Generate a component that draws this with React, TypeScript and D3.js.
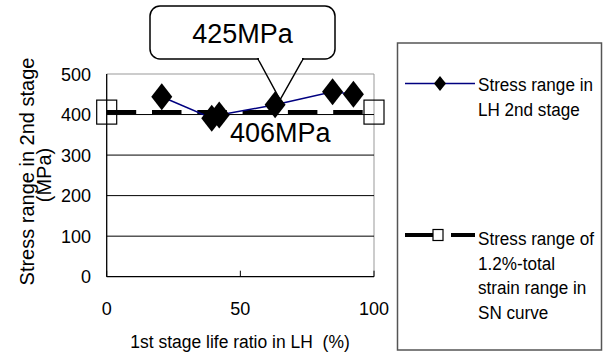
import { useEffect, useRef } from 'react';
import * as d3 from 'd3';

// LH 2nd stage measurements
const lifeRatio = [20.6, 39.3, 42.1, 63.0, 84.5, 92.3];
const stressRange = [444, 391, 399, 424, 456, 450];

// SN curve reference (1.2% total strain range)
const snLifeRatio = [0, 100];
const snStress = [406, 406];

const xTicks = [0, 50, 100];
const yTicks = [0, 100, 200, 300, 400, 500];
const gridValues = [100, 200, 300, 400];

const calloutLabel = '425MPa';
const snLabel = '406MPa';
const xTitle = '1st stage life ratio in LH  (%)';
const yTitle = ['Stress range in 2nd stage', '(MPa)'];
const legendLabels = [
  ['Stress range in', 'LH 2nd stage'],
  ['Stress range of', '1.2%-total', 'strain range in', 'SN curve'],
];

const FONT = "'Liberation Sans', Arial, sans-serif";

export default function App() {
  const svgRef = useRef<SVGSVGElement>(null);

  useEffect(() => {
    if (!svgRef.current) return;
    const svg = d3.select(svgRef.current);
    svg.selectAll('*').remove();

    const W = 612;
    const H = 354;
    svg.attr('width', W).attr('height', H);
    svg.append('rect').attr('width', W).attr('height', H).attr('fill', '#fff');

    const plot = { left: 106.7, right: 374, top: 74, bottom: 276.7 };

    const x = d3.scaleLinear().domain([0, 100]).range([plot.left, plot.right]);
    const y = d3.scaleLinear().domain([0, 500]).range([plot.bottom, plot.top]);

    // Plot frame (grey top/right)
    svg.append('line')
      .attr('x1', plot.left).attr('x2', plot.right)
      .attr('y1', y(500)).attr('y2', y(500))
      .attr('stroke', '#999').attr('stroke-width', 1);
    svg.append('line')
      .attr('x1', plot.right).attr('x2', plot.right)
      .attr('y1', y(500)).attr('y2', y(0))
      .attr('stroke', '#999').attr('stroke-width', 1);

    // Grid lines
    svg.selectAll('.grid')
      .data(gridValues)
      .enter()
      .append('line')
      .attr('x1', plot.left).attr('x2', plot.right)
      .attr('y1', (d) => y(d)).attr('y2', (d) => y(d))
      .attr('stroke', '#000').attr('stroke-width', 1);

    // Axes
    svg.append('line')
      .attr('x1', plot.left).attr('x2', plot.left)
      .attr('y1', y(500)).attr('y2', y(0))
      .attr('stroke', '#000').attr('stroke-width', 1.3);
    svg.append('line')
      .attr('x1', plot.left).attr('x2', plot.right)
      .attr('y1', y(0)).attr('y2', y(0))
      .attr('stroke', '#000').attr('stroke-width', 1.3);

    // x tick marks (inside)
    svg.selectAll('.xtick')
      .data(xTicks)
      .enter()
      .append('line')
      .attr('x1', (d) => x(d)).attr('x2', (d) => x(d))
      .attr('y1', y(0)).attr('y2', y(0) - 6)
      .attr('stroke', '#000').attr('stroke-width', 1);

    // Tick labels
    svg.selectAll('.ylab')
      .data(yTicks)
      .enter()
      .append('text')
      .attr('x', 91)
      .attr('y', (d) => y(d) + 6.5)
      .attr('text-anchor', 'end')
      .attr('font-family', FONT)
      .attr('font-size', 18)
      .attr('fill', '#000')
      .text((d) => d);

    svg.selectAll('.xlab')
      .data(xTicks)
      .enter()
      .append('text')
      .attr('x', (d) => x(d))
      .attr('y', 315)
      .attr('text-anchor', 'middle')
      .attr('font-family', FONT)
      .attr('font-size', 18)
      .attr('fill', '#000')
      .text((d) => d);

    // Axis titles
    svg.append('text')
      .attr('transform', 'translate(240,348) scale(0.92,1)')
      .attr('text-anchor', 'middle')
      .attr('font-family', FONT)
      .attr('font-size', 19)
      .attr('fill', '#000')
      .style('white-space', 'pre')
      .text(xTitle);

    svg.append('text')
      .attr('transform', 'translate(33.5,171.5) rotate(-90)')
      .attr('text-anchor', 'middle')
      .attr('font-family', FONT)
      .attr('font-size', 20)
      .attr('fill', '#000')
      .text(yTitle[0]);
    svg.append('text')
      .attr('transform', 'translate(51,175) rotate(-90)')
      .attr('text-anchor', 'middle')
      .attr('font-family', FONT)
      .attr('font-size', 20)
      .attr('fill', '#000')
      .text(yTitle[1]);

    // SN reference dashed line
    const snPts = snLifeRatio.map((d, i) => [d, snStress[i]] as [number, number]);
    svg.append('path')
      .datum(snPts)
      .attr('fill', 'none')
      .attr('stroke', '#000')
      .attr('stroke-width', 4)
      .attr('stroke-dasharray', '29.5,15.8')
      .attr('d', d3.line<[number, number]>().x((d) => x(d[0])).y((d) => y(d[1])));

    svg.selectAll('.snmark')
      .data(snPts)
      .enter()
      .append('rect')
      .attr('x', (d) => x(d[0]) - 10)
      .attr('y', (d) => y(d[1]) - 12)
      .attr('width', 20)
      .attr('height', 24)
      .attr('fill', 'none')
      .attr('stroke', '#000')
      .attr('stroke-width', 1.2);

    // LH 2nd stage line + diamonds
    const pts = lifeRatio.map((d, i) => [d, stressRange[i]] as [number, number]);
    svg.append('path')
      .datum(pts)
      .attr('fill', 'none')
      .attr('stroke', '#000080')
      .attr('stroke-width', 1.5)
      .attr('d', d3.line<[number, number]>().x((d) => x(d[0])).y((d) => y(d[1])));

    const diamond = (cx: number, cy: number, w: number, h: number) =>
      `M${cx},${cy - h / 2}L${cx + w / 2},${cy}L${cx},${cy + h / 2}L${cx - w / 2},${cy}Z`;

    svg.selectAll('.dia')
      .data(pts)
      .enter()
      .append('path')
      .attr('d', (d) => diamond(x(d[0]), y(d[1]), 21, 27))
      .attr('fill', '#000');

    // 406MPa label
    svg.append('text')
      .attr('x', 230)
      .attr('y', 141.5)
      .attr('font-family', FONT)
      .attr('font-size', 27)
      .attr('fill', '#000')
      .text(snLabel);

    // Callout for 425MPa
    const tipX = x(lifeRatio[3]) + 5;
    const tipY = y(stressRange[3]) - 5;
    const box = { x0: 150, x1: 335, y0: 6, y1: 59, r: 10 };
    const call = svg.append('g');
    call.append('rect')
      .attr('x', box.x0).attr('y', box.y0)
      .attr('width', box.x1 - box.x0).attr('height', box.y1 - box.y0)
      .attr('rx', box.r)
      .attr('fill', '#fff')
      .attr('stroke', '#000')
      .attr('stroke-width', 1.5);
    // pointer
    call.append('path')
      .attr('d', `M258,${box.y1}L${tipX},${tipY}L303,${box.y1}Z`)
      .attr('fill', 'none')
      .attr('stroke', '#000')
      .attr('stroke-width', 1.5);
    call.append('line')
      .attr('x1', 259).attr('x2', 302)
      .attr('y1', box.y1).attr('y2', box.y1)
      .attr('stroke', '#fff').attr('stroke-width', 2.5);
    call.append('text')
      .attr('x', 242.5)
      .attr('y', 43)
      .attr('text-anchor', 'middle')
      .attr('font-family', FONT)
      .attr('font-size', 27)
      .attr('fill', '#000')
      .text(calloutLabel);

    // Legend
    const lg = svg.append('g');
    lg.append('rect')
      .attr('x', 397.5).attr('y', 43)
      .attr('width', 204).attr('height', 307)
      .attr('fill', '#fff')
      .attr('stroke', '#555')
      .attr('stroke-width', 1.5);

    // entry 1
    lg.append('line')
      .attr('x1', 405).attr('x2', 475)
      .attr('y1', 83.5).attr('y2', 83.5)
      .attr('stroke', '#000080').attr('stroke-width', 1.5);
    lg.append('path').attr('d', diamond(440, 83.5, 12, 15)).attr('fill', '#000');

    // entry 2
    lg.append('line')
      .attr('x1', 405).attr('x2', 475)
      .attr('y1', 235).attr('y2', 235)
      .attr('stroke', '#000').attr('stroke-width', 4)
      .attr('stroke-dasharray', '30,16,40');
    lg.append('rect')
      .attr('x', 433).attr('y', 229.5)
      .attr('width', 10).attr('height', 11)
      .attr('fill', '#fff')
      .attr('stroke', '#000').attr('stroke-width', 1.2);

    const baseY = [91, 245];
    legendLabels.forEach((lines, i) => {
      lg.append('g')
        .selectAll('text')
        .data(lines)
        .enter()
        .append('text')
        .attr('transform', (_d, j) => `translate(478,${baseY[i] + j * 24.5}) scale(0.9,1)`)
        .attr('font-family', FONT)
        .attr('font-size', 19)
        .attr('fill', '#000')
        .text((d) => d);
    });
  }, []);

  return (
    <div style={{ position: 'absolute', left: 0, top: 0 }}>
      <svg ref={svgRef} />
    </div>
  );
}
